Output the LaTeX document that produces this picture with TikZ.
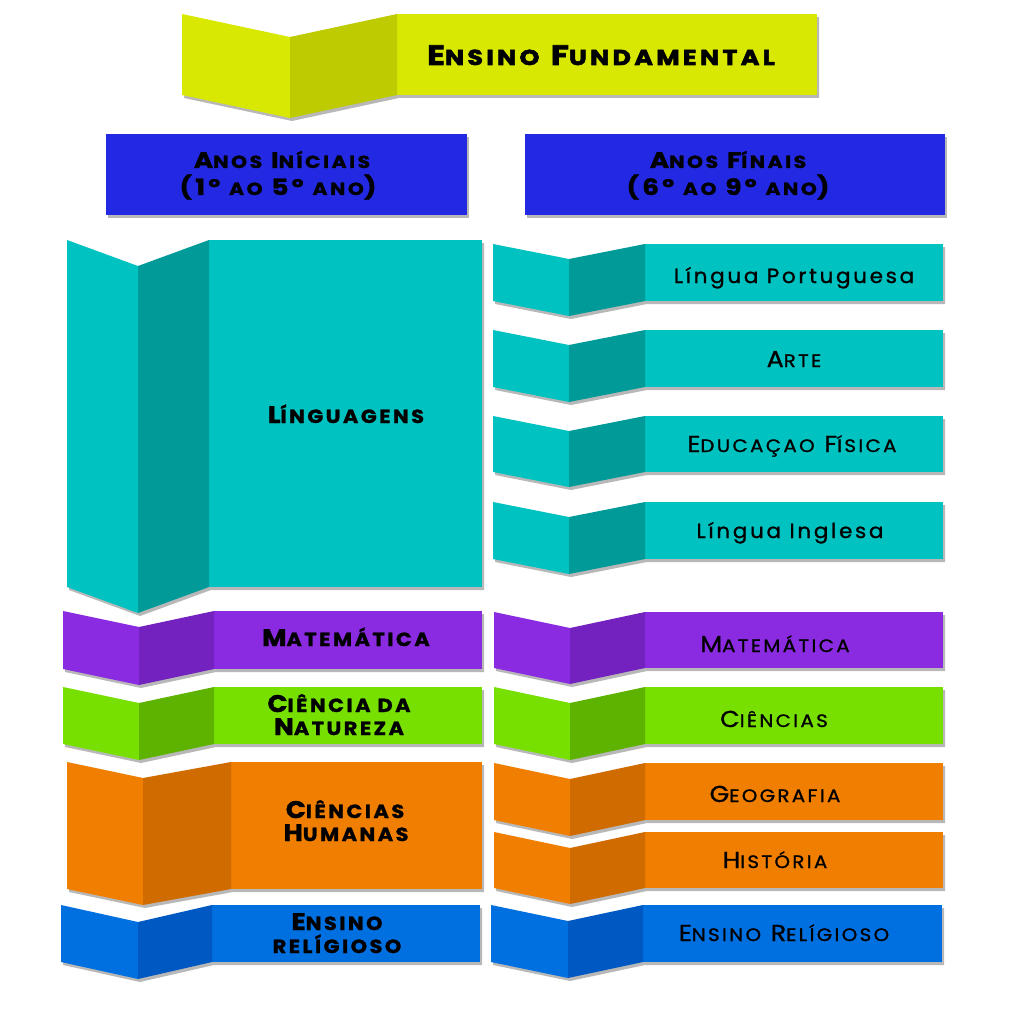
\documentclass[tikz,border=0pt]{standalone}
\usepackage{fontspec}
\setmainfont{Poppins}
\newfontfamily\fT{Poppins}[LetterSpace=15.5,FakeStretch=1.18,BoldFeatures={FakeBold=2.6}]
\newfontfamily\fB{Poppins}[LetterSpace=14,FakeStretch=1.17,BoldFeatures={FakeBold=1.1}]
\newfontfamily\fL{Poppins}[LetterSpace=13,FakeStretch=1.1,BoldFeatures={FakeBold=1.3}]
\newfontfamily\fM{Poppins}[LetterSpace=13,FakeStretch=1.1,FakeBold=1.1]
\newfontfamily\fP{Poppins}[LetterSpace=13,FakeStretch=1.05,FakeBold=1.0]
\newcommand\smc[1]{{\fontsize{\scs}{\scs}\selectfont #1}}
\def\scs{16}
\definecolor{yl}{HTML}{D8E800}\definecolor{ylD}{HTML}{BDCB00}
\definecolor{hb}{HTML}{2329E3}
\definecolor{te}{HTML}{00C2C0}\definecolor{teD}{HTML}{009A98}
\definecolor{pu}{HTML}{8A2BE2}\definecolor{puD}{HTML}{7322BF}
\definecolor{gr}{HTML}{77E000}\definecolor{grD}{HTML}{5EB200}
\definecolor{or}{HTML}{F07E00}\definecolor{orD}{HTML}{D06B00}
\definecolor{bl}{HTML}{006FE0}\definecolor{blD}{HTML}{0058C2}
% \fold{x0}{x1}{x2}{x3}{ytop}{ybot}{depth}{colour}
\newcommand\fold[8]{%
  \begin{scope}[shift={(2,3)}]
    \fill[black!28] (#1,#5) -- (#2,#5+#7) -- (#3,#5) -- (#4,#5) -- (#4,#6) -- (#3,#6) -- (#2,#6+#7) -- (#1,#6) -- cycle;
  \end{scope}
  \fill[#8] (#1,#5) -- (#2,#5+#7) -- (#2,#6+#7) -- (#1,#6) -- cycle;
  \fill[#8] (#3,#5) rectangle (#4,#6);
  \fill[#8D] (#2,#5+#7) -- (#3,#5) -- (#3,#6) -- (#2,#6+#7) -- cycle;
}
\tikzset{
  titletxt/.style={anchor=base,font=\fT\bfseries\fontsize{28}{30}\selectfont\def\scs{21.5}},
  headtxt/.style={anchor=base,font=\fB\bfseries\fontsize{22.5}{24}\selectfont\def\scs{17.5}},
  lefttxt/.style={anchor=base,font=\fL\bfseries\fontsize{24}{26}\selectfont\def\scs{19}},
  righttxt/.style={anchor=base,font=\fM\fontsize{23}{25}\selectfont\def\scs{18}},
  plaintxt/.style={anchor=base,font=\fP\fontsize{20.5}{24}\selectfont},
  panel/.style={fill=#1,draw=none},
}
\begin{document}
\begin{tikzpicture}[x=1pt,y=-1pt]
\useasboundingbox[fill=white] (0,0) rectangle (1024,1024);
% title banner
\fold{182}{290}{397}{817}{14}{95}{23}{yl}
\node[titletxt] (title) at (601,65) {E\smc{NSINO} F\smc{UNDAMENTAL}};
% headers
\fill[black!28] (108,137) rectangle (469,218);
\fill[black!28] (527,137) rectangle (947,218);
\node[panel=hb,minimum width=361pt,minimum height=81pt,inner sep=0pt,anchor=north west] (hL) at (106,134) {};
\node[panel=hb,minimum width=420pt,minimum height=81pt,inner sep=0pt,anchor=north west] (hR) at (525,134) {};
\node[headtxt] (hL1) at (282,168) {A\smc{NOS} I\smc{NÍCIAIS}};
\node[headtxt] (hL2) at (278,195) {(1º \smc{AO} 5º \smc{ANO})};
\node[headtxt] (hR1) at (728,168) {A\smc{NOS} F\smc{ÍNAIS}};
\node[headtxt] (hR2) at (728,195) {(6º \smc{AO} 9º \smc{ANO})};
% left column
\fold{67}{138}{209}{482}{240}{587}{26}{te}
\fold{63}{139}{214}{482}{611}{669}{16}{pu}
\fold{63}{139}{214}{482}{687}{744}{16}{gr}
\fold{67}{143}{231}{482}{762}{889}{16}{or}
\fold{61}{138}{212}{480}{905}{962}{17}{bl}
\node[lefttxt] (l1) at (346,423) {L\smc{ÍNGUAGENS}};
\node[lefttxt] (l2) at (346,646) {M\smc{ATEMÁTICA}};
\node[lefttxt] (l3a) at (339,712) {C\smc{IÊNCIA DA}};
\node[lefttxt] (l3b) at (339,735) {N\smc{ATUREZA}};
\node[lefttxt] (l4a) at (345,818) {C\smc{IÊNCIAS}};
\node[lefttxt] (l4b) at (346,841) {H\smc{UMANAS}};
\node[lefttxt] (l5a) at (337,930) {E\smc{NSINO}};
\node[lefttxt] (l5b) at (337,953) {\smc{RELÍGIOSO}};
% right column
\fold{493}{569}{645}{943}{244}{301}{15}{te}
\fold{493}{569}{645}{943}{330}{387}{15}{te}
\fold{493}{569}{645}{943}{416}{472}{15}{te}
\fold{493}{569}{645}{943}{502}{559}{15}{te}
\fold{494}{570}{645}{943}{612}{668}{16}{pu}
\fold{494}{570}{645}{943}{687}{744}{16}{gr}
\fold{494}{570}{645}{943}{763}{820}{16}{or}
\fold{494}{570}{645}{943}{832}{888}{16}{or}
\fold{491}{568}{643}{942}{905}{962}{16}{bl}
\node[plaintxt] (r1) at (794,283) {Língua Portuguesa};
\node[righttxt] (r2) at (794,367) {A\smc{RTE}};
\node[righttxt] (r3) at (792,452) {E\smc{DUCAÇAO} F\smc{ÍSICA}};
\node[plaintxt] (r4) at (790,538) {Língua Inglesa};
\node[righttxt] (r5) at (775,652) {M\smc{ATEMÁTICA}};
\node[righttxt] (r6) at (774,727) {C\smc{IÊNCIAS}};
\node[righttxt] (r7) at (775,802) {G\smc{EOGRAFIA}};
\node[righttxt] (r8) at (775,868) {H\smc{ISTÓRIA}};
\node[righttxt] (r9) at (784,941) {E\smc{NSINO} R\smc{ELÍGIOSO}};
\end{tikzpicture}
\end{document}
